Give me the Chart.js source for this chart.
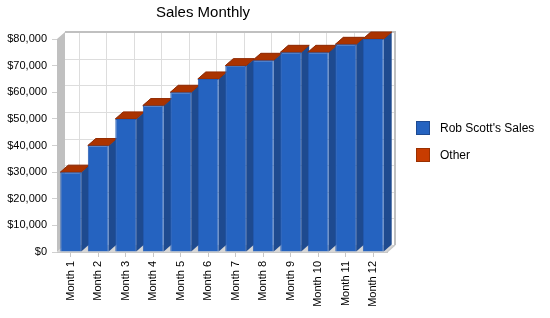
<!DOCTYPE html>
<html>
<head>
<meta charset="utf-8">
<script src="https://cdn.jsdelivr.net/npm/chart.js@4"></script>
<style>
html,body{margin:0;padding:0;background:#fff;}
#wrap{width:550px;height:318px;position:relative;}
</style>
</head>
<body>
<div id="wrap"><canvas id="c" width="550" height="318"></canvas></div>
<script>
// ---- data ----
const chartTitle = 'Sales Monthly';
const categories = ['Month 1','Month 2','Month 3','Month 4','Month 5','Month 6','Month 7','Month 8','Month 9','Month 10','Month 11','Month 12'];
const robScottSales = [30000, 40000, 50000, 55000, 60000, 65000, 70000, 72000, 75000, 75000, 78000, 80000];
const otherSales = [0, 0, 0, 0, 0, 0, 0, 0, 0, 0, 0, 0];
const yTickValues = [0, 10000, 20000, 30000, 40000, 50000, 60000, 70000, 80000];
const seriesNames = ["Rob Scott's Sales", 'Other'];

// ---- style ----
const DX = 8, DY = -7;
const FONT = '"Liberation Sans", Arial, sans-serif';
Chart.defaults.font.family = FONT;
Chart.defaults.font.size = 11;
Chart.defaults.color = '#000';

function poly(ctx, pts, fill, stroke) {
  ctx.beginPath();
  ctx.moveTo(pts[0][0], pts[0][1]);
  for (let i = 1; i < pts.length; i++) ctx.lineTo(pts[i][0], pts[i][1]);
  ctx.closePath();
  if (fill) { ctx.fillStyle = fill; ctx.fill(); }
  if (stroke) { ctx.strokeStyle = stroke; ctx.lineWidth = 1; ctx.stroke(); }
}
function seg(ctx, x1, y1, x2, y2) {
  ctx.beginPath(); ctx.moveTo(x1, y1); ctx.lineTo(x2, y2); ctx.stroke();
}

const threeD = {
  id: 'threeD',
  beforeDraw(chart) {
    const {ctx, chartArea: a, scales: {x, y}} = chart;
    ctx.save();
    // back wall grid
    ctx.strokeStyle = '#dddddd';
    ctx.lineWidth = 1;
    y.ticks.forEach(t => {
      const py = Math.round(y.getPixelForValue(t.value) + DY) + 0.5;
      seg(ctx, a.left + DX, py, a.right + DX, py);
    });
    categories.forEach((c, i) => {
      const px = Math.round(x.getPixelForValue(i) + DX) + 0.5;
      seg(ctx, px, a.top + DY, px, a.bottom + DY);
    });
    // back wall border
    ctx.strokeStyle = '#c0c0c0';
    ctx.lineWidth = 2;
    seg(ctx, a.left + DX, a.top + DY, a.right + DX + 1, a.top + DY);
    seg(ctx, a.right + DX, a.top + DY, a.right + DX, a.bottom + DY);
    // left wall
    poly(ctx, [[a.left, a.top], [a.left + DX, a.top + DY], [a.left + DX, a.bottom + DY], [a.left, a.bottom]], '#c0c0c0');
    // floor
    poly(ctx, [[a.left, a.bottom], [a.left + DX, a.bottom + DY], [a.right + DX, a.bottom + DY], [a.right, a.bottom]], '#d6d6d6');
    ctx.strokeStyle = '#c8c8c8';
    ctx.lineWidth = 1.5;
    seg(ctx, a.right + DX, a.bottom + DY, a.right, a.bottom);
    ctx.restore();
  },
  beforeDatasetsDraw(chart) {
    const ctx = chart.ctx;
    ctx.save();
    chart.data.datasets.forEach((ds, di) => {
      const meta = chart.getDatasetMeta(di);
      if (meta.hidden) return;
      meta.data.forEach(bar => {
        const p = bar.getProps(['x', 'y', 'base', 'width'], true);
        const x1 = p.x - p.width / 2, x2 = p.x + p.width / 2;
        const top = Math.min(p.y, p.base), bot = Math.max(p.y, p.base);
        if (bot - top > 0.5) {
          poly(ctx, [[x2, top], [x2 + DX, top + DY], [x2 + DX, bot + DY], [x2, bot]], ds.sideColor);
        }
        poly(ctx, [[x1, top], [x1 + DX, top + DY], [x2 + DX, top + DY], [x2, top]], ds.topColor, ds.topEdge);
      });
    });
    ctx.restore();
  },
  afterDraw(chart) {
    const ctx = chart.ctx;
    const a = chart.chartArea;
    ctx.save();
    // title
    ctx.font = '15px ' + FONT;
    ctx.fillStyle = '#000';
    ctx.textAlign = 'center';
    ctx.textBaseline = 'alphabetic';
    ctx.fillText(chartTitle, 203, 17);
    // legend (built from the datasets)
    const lx = a.right + 29, ly0 = 121, step = 27, box = 14;
    ctx.font = '12px ' + FONT;
    ctx.textAlign = 'left';
    ctx.textBaseline = 'middle';
    chart.data.datasets.forEach((ds, i) => {
      const by = ly0 + i * step;
      ctx.fillStyle = ds.backgroundColor;
      ctx.fillRect(lx, by, box, box);
      ctx.strokeStyle = ds.legendBorder;
      ctx.lineWidth = 1;
      ctx.strokeRect(lx + 0.5, by + 0.5, box - 1, box - 1);
      ctx.fillStyle = '#000';
      ctx.fillText(ds.label, lx + box + 10, by + box / 2 + 0.5);
    });
    ctx.restore();
  }
};

new Chart(document.getElementById('c'), {
  type: 'bar',
  data: {
    labels: categories,
    datasets: [
      {
        label: seriesNames[0],
        data: robScottSales,
        backgroundColor: '#2563C0',
        borderColor: '#2259B0',
        borderWidth: 1,
        legendBorder: '#1E4A91',
        sideColor: '#1E4A8F',
        topColor: '#2A6AC8',
        topEdge: null
      },
      {
        label: seriesNames[1],
        data: otherSales,
        backgroundColor: '#C83C00',
        borderWidth: 0,
        legendBorder: '#9A3000',
        sideColor: '#8A2A00',
        topColor: '#AA3300',
        topEdge: '#952c00'
      }
    ]
  },
  options: {
    responsive: false,
    animation: false,
    devicePixelRatio: 1,
    layout: { padding: { top: 39, right: 163, bottom: 0, left: 0 } },
    datasets: { bar: { categoryPercentage: 1, barPercentage: 0.76 } },
    scales: {
      x: {
        stacked: true,
        grid: { display: true, drawOnChartArea: false, drawTicks: true, tickLength: 5, color: '#c8c8c8', offset: false },
        border: { display: true, color: '#c8c8c8' },
        ticks: { autoSkip: false, minRotation: 90, maxRotation: 90, padding: 4, font: { size: 11 }, color: '#000' },
        afterFit(s) { s.height = 66; }
      },
      y: {
        stacked: true,
        min: 0,
        max: 80000,
        grid: { display: true, drawOnChartArea: false, drawTicks: true, tickLength: 5, color: '#d0d0d0' },
        border: { display: false },
        afterBuildTicks(s) { s.ticks = yTickValues.map(v => ({ value: v })); },
        ticks: {
          padding: 5,
          font: { size: 11 },
          color: '#000',
          callback: v => '$' + Number(v).toLocaleString('en-US')
        },
        afterFit(s) { s.width = 57; }
      }
    },
    plugins: {
      title: { display: false },
      tooltip: { enabled: false },
      legend: { display: false }
    }
  },
  plugins: [threeD]
});
</script>
</body>
</html>
